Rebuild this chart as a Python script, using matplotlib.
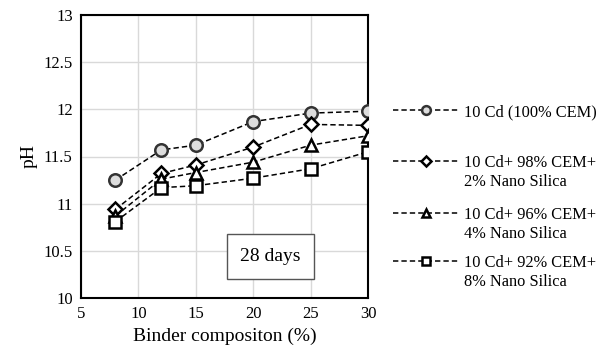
import matplotlib
matplotlib.use("Agg")
import matplotlib.pyplot as plt

plt.rcParams['font.family'] = ['Liberation Serif', 'DejaVu Serif']

binder = [8, 12, 15, 20, 25, 30]
ph_100cem = [11.25, 11.57, 11.62, 11.87, 11.96, 11.98]
ph_2ns = [10.94, 11.32, 11.41, 11.60, 11.84, 11.83]
ph_4ns = [10.87, 11.26, 11.33, 11.44, 11.62, 11.72]
ph_8ns = [10.81, 11.17, 11.19, 11.27, 11.37, 11.55]
labels = ["10 Cd (100% CEM)",
          "10 Cd+ 98% CEM+\n2% Nano Silica",
          "10 Cd+ 96% CEM+\n4% Nano Silica",
          "10 Cd+ 92% CEM+\n8% Nano Silica"]

fig = plt.figure(figsize=(6.06, 3.61), dpi=100)
ax = fig.add_axes([81/606, 63/361, 287/606, 283/361])

series = [(ph_100cem, "o", "#dddddd", "#333333", 9),
          (ph_2ns, "D", "white", "black", 7),
          (ph_4ns, "^", "white", "black", 8),
          (ph_8ns, "s", "white", "black", 8)]
handles = []
for ys, mk, fc, ec, ms in series:
    h, = ax.plot(binder, ys, ls=(0, (3.5, 2)), color="black", lw=1.1,
                 marker=mk, ms=ms, mfc=fc, mec=ec, mew=1.8, zorder=3)
    handles.append(h)

ax.set_xlim(5, 30)
ax.set_ylim(10, 13)
ax.set_xticks([5, 10, 15, 20, 25, 30])
ax.set_yticks([10, 10.5, 11, 11.5, 12, 12.5, 13])
ax.set_yticklabels(["10", "10.5", "11", "11.5", "12", "12.5", "13"])
ax.grid(True, color="#d9d9d9", lw=1)
ax.set_axisbelow(True)
for s in ax.spines.values():
    s.set_linewidth(1.5)
ax.tick_params(length=0, labelsize=12, pad=6)
ax.set_xlabel("Binder compositon (%)", fontsize=14)
ax.set_ylabel("pH", fontsize=14)

ax.text(21.5, 10.44, "28 days", fontsize=14, ha="center", va="center",
        bbox=dict(boxstyle="square,pad=0.7", fc="white", ec="#555555", lw=1))

# legend: one entry per series, second label line placed under the first
ys_leg = [112, 163, 215, 263]
legs = []
for h, lab, yp in zip(handles, labels, ys_leg):
    first = lab.split("\n")[0]
    leg = fig.legend([h], [first], loc="center left",
                     bbox_to_anchor=(390/606, 1 - yp / 361),
                     frameon=False, fontsize=11.8, handlelength=4.0,
                     handletextpad=0.3, markerscale=0.7,
                     borderaxespad=0, borderpad=0.2)
    legs.append(leg)

fig.canvas.draw()
r = fig.canvas.get_renderer()
for leg, lab, yp in zip(legs, labels, ys_leg):
    if "\n" in lab:
        bb = leg.get_texts()[0].get_window_extent(r)
        fig.text(bb.x0 / 606, 1 - (yp + 19) / 361, lab.split("\n")[1],
                 fontsize=11.8, ha="left", va="center")

fig.savefig("out.png", dpi=100)
